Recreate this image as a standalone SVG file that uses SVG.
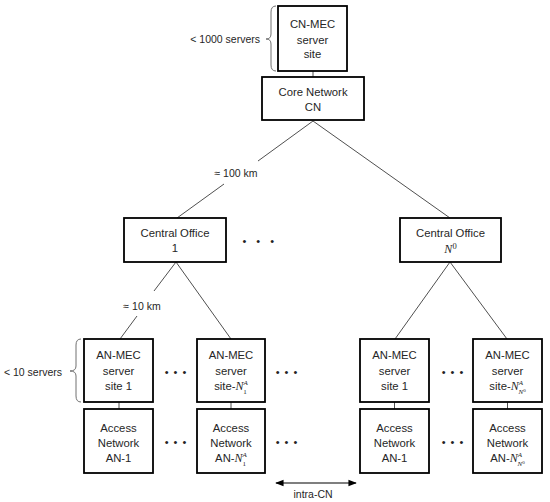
<svg xmlns="http://www.w3.org/2000/svg" width="550" height="502" viewBox="0 0 550 502">
<defs>
<style>
.box{fill:#fff;stroke:#000;stroke-width:1.8}
.ln{stroke:#505050;stroke-width:1;fill:none}
.br{stroke:#707070;stroke-width:1;fill:none}
.t{font-family:"Liberation Sans",Arial,sans-serif;font-size:11.3px;fill:#262626;text-anchor:middle}
.s{font-family:"Liberation Sans",Arial,sans-serif;font-size:10.5px;fill:#262626}
.m{font-family:"Liberation Serif","Times New Roman",serif;font-style:italic;font-size:12px}
.sup{font-family:"Liberation Serif","Times New Roman",serif;font-style:italic;font-size:7px}
.up{font-family:"Liberation Serif","Times New Roman",serif;font-size:7px}
.up8{font-family:"Liberation Serif","Times New Roman",serif;font-size:8.5px}
.up5{font-family:"Liberation Serif","Times New Roman",serif;font-size:5px}
.d{font-family:"Liberation Sans",Arial,sans-serif;font-size:11px;fill:#222;text-anchor:middle}
</style>
<marker id="ah" viewBox="0 0 10 10" refX="9" refY="5" markerWidth="7" markerHeight="7" orient="auto-start-reverse">
<path d="M0,1 L10,5 L0,9 z" fill="#000"/>
</marker>
</defs>
<rect width="550" height="502" fill="#fff"/>

<g id="connectors">
<line class="ln" x1="313" y1="71" x2="313" y2="77"/>
<line class="ln" x1="313" y1="121" x2="258" y2="161"/>
<line class="ln" x1="224" y1="184" x2="177" y2="218"/>
<line class="ln" x1="313" y1="121" x2="450" y2="218"/>
<line class="ln" x1="176" y1="262" x2="154" y2="291"/>
<line class="ln" x1="137" y1="316" x2="120" y2="339"/>
<line class="ln" x1="176" y1="262" x2="231" y2="339"/>
<line class="ln" x1="450" y1="262" x2="395" y2="339"/>
<line class="ln" x1="450" y1="262" x2="507" y2="339"/>
<line class="ln" x1="119" y1="402" x2="119" y2="409"/>
<line class="ln" x1="231" y1="402" x2="231" y2="409"/>
<line class="ln" x1="394.5" y1="402" x2="394.5" y2="409"/>
<line class="ln" x1="507.5" y1="402" x2="507.5" y2="409"/>
<line stroke="#000" stroke-width="1.2" x1="276" y1="483" x2="356" y2="483" marker-start="url(#ah)" marker-end="url(#ah)"/>
</g>

<g id="labels">
<text class="s" x="236" y="177" text-anchor="middle">≈ 100 km</text>
<text class="s" x="142" y="310" text-anchor="middle">≈ 10 km</text>
<text class="s" x="313" y="498" text-anchor="middle">intra-CN</text>
<text class="s" x="260" y="43" text-anchor="end">&lt; 1000 servers</text>
<path class="br" d="M276,6 Q271,6 271,12 L271,34 Q271,39 266,39 Q271,39 271,44 L271,65 Q271,71 276,71"/>
<text class="s" x="62" y="376" text-anchor="end">&lt; 10 servers</text>
<path class="br" d="M81,339 Q76,339 76,345 L76,366 Q76,371 70,371 Q76,371 76,376 L76,396 Q76,402 81,402"/>
<text class="d" x="260" y="245" letter-spacing="3.5">• • •</text>
<text class="d" x="176" y="376" letter-spacing="1">• • •</text>
<text class="d" x="287" y="376" letter-spacing="1">• • •</text>
<text class="d" x="453" y="376" letter-spacing="1">• • •</text>
<text class="d" x="176" y="446" letter-spacing="1">• • •</text>
<text class="d" x="287" y="446" letter-spacing="1">• • •</text>
<text class="d" x="453" y="446" letter-spacing="1">• • •</text>
</g>

<g id="cn-mec">
<rect class="box" x="278" y="6" width="69" height="65"/>
<text class="t" x="312.5" y="28">CN-MEC</text>
<text class="t" x="312.5" y="44">server</text>
<text class="t" x="312.5" y="58">site</text>
</g>

<g id="core">
<rect class="box" x="262" y="77" width="102" height="43"/>
<text class="t" x="313" y="96">Core Network</text>
<text class="t" x="313" y="111">CN</text>
</g>

<g id="co1">
<rect class="box" x="124" y="218" width="102" height="44"/>
<text class="t" x="175" y="237">Central Office</text>
<text class="t" x="175" y="252">1</text>
</g>

<g id="coN">
<rect class="box" x="400" y="218" width="101" height="44"/>
<text class="t" x="450.5" y="237">Central Office</text>
<text class="t" x="450.5" y="253"><tspan class="m">N</tspan><tspan class="up8" dy="-4">0</tspan></text>
</g>

<g id="an-mec-1-1">
<rect class="box" x="84" y="339" width="69" height="63"/>
<text class="t" x="118.5" y="359">AN-MEC</text>
<text class="t" x="118.5" y="375">server</text>
<text class="t" x="118.5" y="390">site 1</text>
</g>

<g id="an-mec-1-N">
<rect class="box" x="197" y="339" width="68" height="63"/>
<text class="t" x="231" y="359">AN-MEC</text>
<text class="t" x="231" y="375">server</text>
<text class="t" x="231" y="390">site-<tspan class="m">N</tspan><tspan class="sup" dy="-5">A</tspan><tspan class="up" dx="-4.5" dy="9">1</tspan></text>
</g>

<g id="an-1-1">
<rect class="box" x="84" y="409" width="69" height="64"/>
<text class="t" x="118.5" y="432">Access</text>
<text class="t" x="118.5" y="447">Network</text>
<text class="t" x="118.5" y="462">AN-1</text>
</g>

<g id="an-1-N">
<rect class="box" x="197" y="409" width="68" height="64"/>
<text class="t" x="231" y="432">Access</text>
<text class="t" x="231" y="447">Network</text>
<text class="t" x="231" y="462">AN-<tspan class="m">N</tspan><tspan class="sup" dy="-5">A</tspan><tspan class="up" dx="-4.5" dy="9">1</tspan></text>
</g>

<g id="an-mec-N-1">
<rect class="box" x="360" y="339" width="69" height="63"/>
<text class="t" x="394.5" y="359">AN-MEC</text>
<text class="t" x="394.5" y="375">server</text>
<text class="t" x="394.5" y="390">site 1</text>
</g>

<g id="an-mec-N-N">
<rect class="box" x="473" y="339" width="69" height="63"/>
<text class="t" x="507.5" y="359">AN-MEC</text>
<text class="t" x="507.5" y="375">server</text>
<text class="t" x="507.5" y="390">site-<tspan class="m">N</tspan><tspan class="sup" dy="-5">A</tspan><tspan class="sup" dx="-4.5" dy="9">N</tspan><tspan class="up5" dy="-2">0</tspan></text>
</g>

<g id="an-N-1">
<rect class="box" x="360" y="409" width="69" height="64"/>
<text class="t" x="394.5" y="432">Access</text>
<text class="t" x="394.5" y="447">Network</text>
<text class="t" x="394.5" y="462">AN-1</text>
</g>

<g id="an-N-N">
<rect class="box" x="473" y="409" width="69" height="64"/>
<text class="t" x="507.5" y="432">Access</text>
<text class="t" x="507.5" y="447">Network</text>
<text class="t" x="507.5" y="462">AN-<tspan class="m">N</tspan><tspan class="sup" dy="-5">A</tspan><tspan class="sup" dx="-4.5" dy="9">N</tspan><tspan class="up5" dy="-2">0</tspan></text>
</g>
</svg>
